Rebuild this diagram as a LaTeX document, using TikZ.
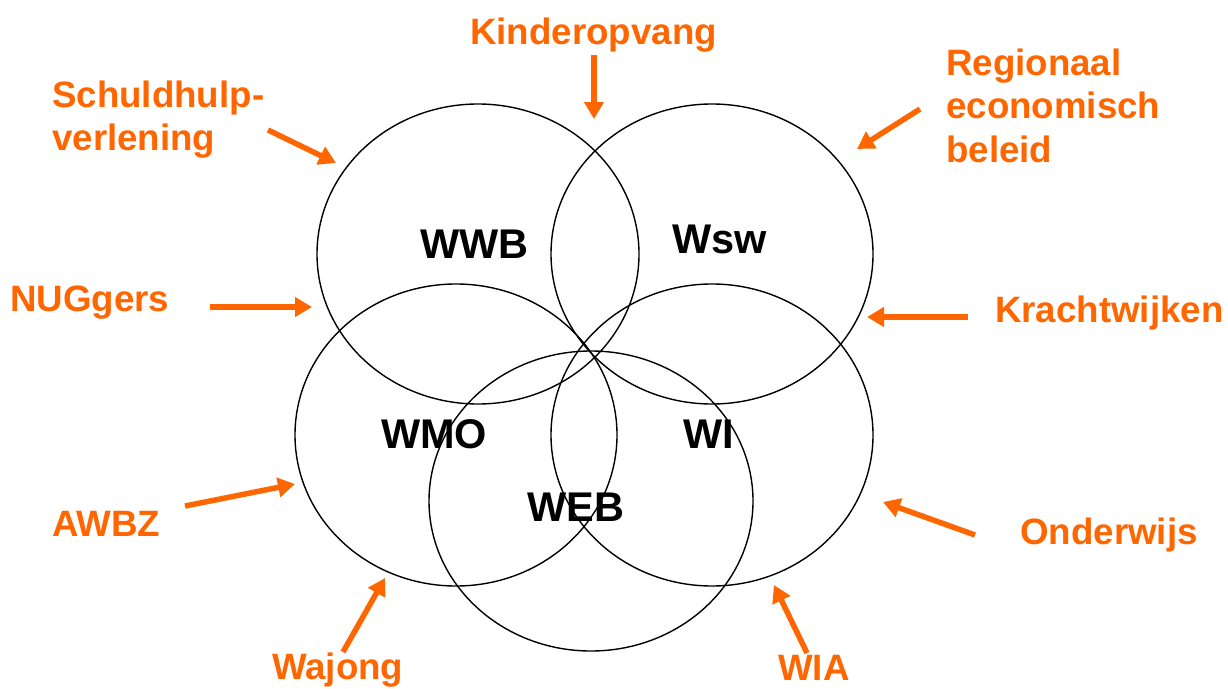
\documentclass[tikz,border=0pt]{standalone}
\usepackage{fontspec}
\setmainfont{Liberation Sans}
\usetikzlibrary{arrows.meta}
\definecolor{oranje}{RGB}{255,102,0}
\tikzset{
	lbl/.style={text=oranje,font=\fontsize{36.7}{43.5}\selectfont\bfseries,inner sep=0pt,align=left},
	wet/.style={font=\fontsize{41.5}{48}\selectfont\bfseries,inner sep=0pt},
	pijl/.style={draw=oranje,line width=5.5pt,-{Triangle[length=17pt,width=19pt]}},
	cirkel/.style={draw=black,line width=1.4pt}
}

\begin{document}
\begin{tikzpicture}[x=1pt,y=-1pt]
		\useasboundingbox (0,0) rectangle (1228,688);
		%\draw (0,0) grid (1228,688);
		\draw[cirkel] (478,254) ellipse [x radius=161pt, y radius=150pt];
		\draw[cirkel] (712,254) ellipse [x radius=161pt, y radius=150pt];
		\draw[cirkel] (456,435) ellipse [x radius=161pt, y radius=151pt];
		\draw[cirkel] (712,435) ellipse [x radius=161pt, y radius=151pt];
		\draw[cirkel] (591,501) ellipse [x radius=162pt, y radius=150pt];
		\node[wet,anchor=base west] (wwb) at (420,258) {WWB};
		\node[wet,anchor=base west] (wsw) at (672,253) {Wsw};
		\node[wet,anchor=base west] (wmo) at (381,448) {WMO};
		\node[wet,anchor=base west] (wi) at (683,448) {WI};
		\node[wet,anchor=base west] (web) at (527,521) {WEB};
		\node[lbl,anchor=base] (kinder) at (593.5,44) {Kinderopvang};
		\node[lbl,anchor=west] (schuld) at (52,119.5) {Schuldhulp-\\verlening};
		\node[lbl,anchor=west] (regio) at (946,105.5) {Regionaal\\economisch\\beleid};
		\node[lbl,anchor=base west] (nug) at (10,311) {NUGgers};
		\node[lbl,anchor=base west] (kracht) at (995,322) {Krachtwijken};
		\node[lbl,anchor=base west] (awbz) at (52,536) {AWBZ};
		\node[lbl,anchor=base west] (onderw) at (1020,544) {Onderwijs};
		\node[lbl,anchor=base west] (wajong) at (272,679) {Wajong};
		\node[lbl,anchor=base west] (wia) at (778,680) {WIA};
		\coordinate (kinderA) at (594,55);
		\coordinate (kinderB) at (594,119);
		\coordinate (schuldA) at (268,130);
		\coordinate (schuldB) at (336,163);
		\coordinate (regioA) at (920,109);
		\coordinate (regioB) at (857,149);
		\coordinate (nugA) at (210,307);
		\coordinate (nugB) at (312,307);
		\coordinate (krachtA) at (968,317);
		\coordinate (krachtB) at (867,317);
		\coordinate (awbzA) at (185,506);
		\coordinate (awbzB) at (295,484);
		\coordinate (onderwA) at (975,535);
		\coordinate (onderwB) at (883,502);
		\coordinate (wajongA) at (343,652);
		\coordinate (wajongB) at (385,578);
		\coordinate (wiaA) at (807,653);
		\coordinate (wiaB) at (774,585);
		\draw[pijl] (kinderA) -- (kinderB);
		\draw[pijl] (schuldA) -- (schuldB);
		\draw[pijl] (regioA) -- (regioB);
		\draw[pijl] (nugA) -- (nugB);
		\draw[pijl] (krachtA) -- (krachtB);
		\draw[pijl] (awbzA) -- (awbzB);
		\draw[pijl] (onderwA) -- (onderwB);
		\draw[pijl] (wajongA) -- (wajongB);
		\draw[pijl] (wiaA) -- (wiaB);
	\end{tikzpicture}
\end{document}
